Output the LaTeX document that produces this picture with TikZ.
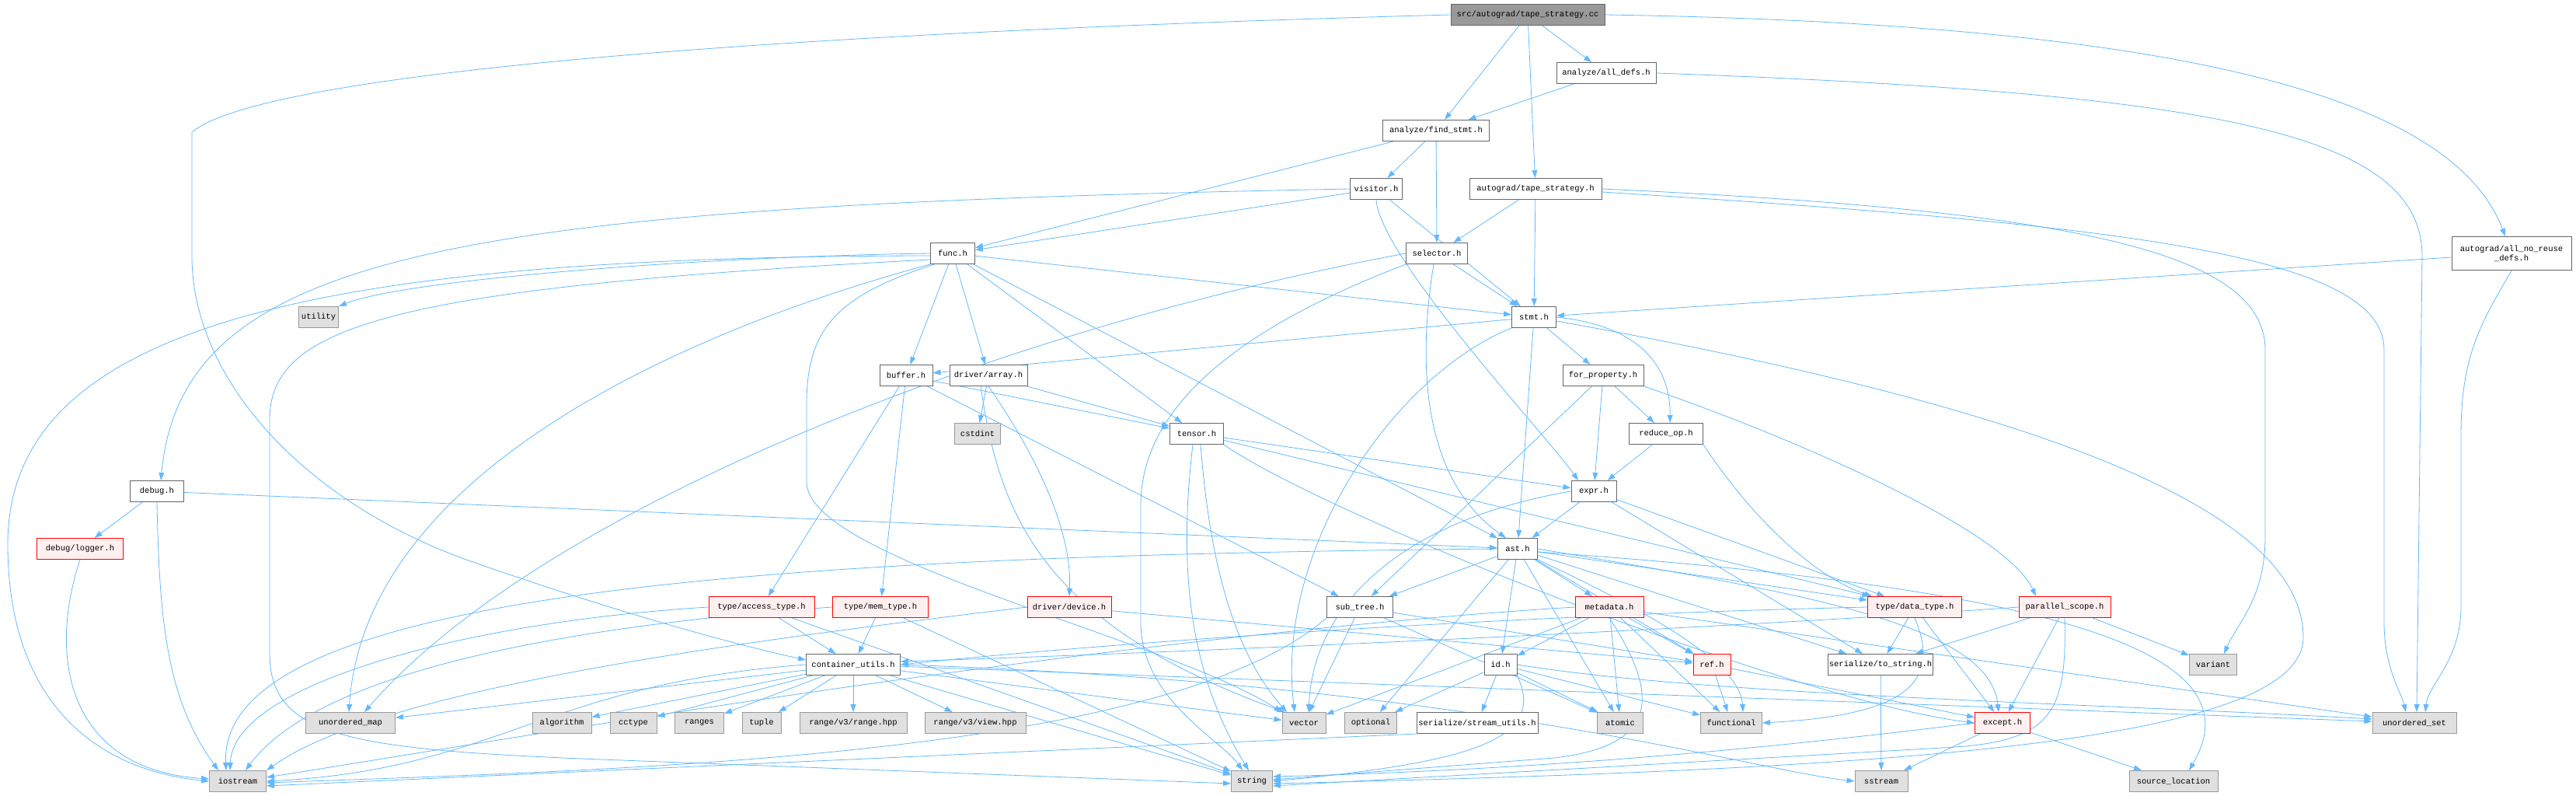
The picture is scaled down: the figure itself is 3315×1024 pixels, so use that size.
\documentclass[tikz,border=0pt]{standalone}
\usepackage{fontspec}
\newfontfamily\dmono{Liberation Mono}
\usetikzlibrary{arrows.meta,backgrounds}
\definecolor{edgec}{HTML}{63B8FF}
\definecolor{bdark}{HTML}{666666}
\definecolor{bgray}{HTML}{999999}
\definecolor{fgray}{HTML}{E0E0E0}
\definecolor{fred}{HTML}{FFF0F0}
\tikzset{
  base/.style={draw, line width=1pt, minimum height=27pt, inner sep=0pt, font=\dmono\fontsize{10.5pt}{12pt}\selectfont, text=black},
  wbox/.style={base, draw=bdark, fill=white},
  gbox/.style={base, draw=bgray, fill=fgray},
  rbox/.style={base, draw=red, fill=fred},
  mbox/.style={base, draw=bdark, fill=bgray},
  e/.style={draw=edgec, line width=0.8pt, -{Triangle[length=10pt,width=7pt]}}
}
\begin{document}
\begin{tikzpicture}[x=1pt,y=-1pt]
\useasboundingbox (0,0) rectangle (3315,1024);
% nodes
\node[mbox, minimum width=198pt] (cc) at (1966,19) {src/autograd/tape\_strategy.cc};
\node[wbox, minimum width=128pt] (alldefs) at (2067,94) {analyze/all\_defs.h};
\node[wbox, minimum width=137pt] (findstmt) at (1848,168) {analyze/find\_stmt.h};
\node[wbox, minimum width=67pt] (visitor) at (1771,243) {visitor.h};
\node[wbox, minimum width=170pt] (tsh) at (1976,243) {autograd/tape\_strategy.h};
\node[wbox, minimum width=154pt, minimum height=43pt, align=center] (noreuse) at (3232,326) {autograd/all\_no\_reuse\\\_defs.h};
\node[wbox, minimum width=57pt] (func) at (1226,326) {func.h};
\node[wbox, minimum width=79pt] (selector) at (1849,326) {selector.h};
\node[wbox, minimum width=57pt] (stmt) at (1974,408) {stmt.h};
\node[gbox, minimum width=51pt] (utility) at (410,408) {utility};
\node[wbox, minimum width=68pt] (buffer) at (1166,483) {buffer.h};
\node[wbox, minimum width=100pt] (array) at (1272,483) {driver/array.h};
\node[wbox, minimum width=104pt] (forprop) at (2063,483) {for\_property.h};
\node[wbox, minimum width=69pt] (debug) at (202,632) {debug.h};
\node[rbox, minimum width=111pt] (logger) at (103,706) {debug/logger.h};
\node[gbox, minimum width=59pt] (cstdint) at (1258,558) {cstdint};
\node[wbox, minimum width=69pt] (tensor) at (1540,558) {tensor.h};
\node[wbox, minimum width=95pt] (reduceop) at (2144,558) {reduce\_op.h};
\node[wbox, minimum width=58pt] (expr) at (2051,632) {expr.h};
\node[wbox, minimum width=51pt] (ast) at (1953,706) {ast.h};
\node[rbox, minimum width=136pt] (accesstype) at (980,781) {type/access\_type.h};
\node[rbox, minimum width=123pt] (memtype) at (1133,781) {type/mem\_type.h};
\node[rbox, minimum width=108pt] (device) at (1376,781) {driver/device.h};
\node[wbox, minimum width=85pt] (subtree) at (1750,781) {sub\_tree.h};
\node[rbox, minimum width=88pt] (metadata) at (2071,781) {metadata.h};
\node[rbox, minimum width=121pt] (datatype) at (2464,781) {type/data\_type.h};
\node[rbox, minimum width=118pt] (parscope) at (2657,781) {parallel\_scope.h};
\node[wbox, minimum width=121pt] (cu) at (1098,855) {container\_utils.h};
\node[wbox, minimum width=42pt] (id) at (1931,855) {id.h};
\node[rbox, minimum width=48pt] (ref) at (2203,855) {ref.h};
\node[wbox, minimum width=135pt] (tostring) at (2420,855) {serialize/to\_string.h};
\node[gbox, minimum width=61pt] (variant) at (2848,855) {variant};
\node[gbox, minimum width=115pt] (umap) at (451,930) {unordered\_map};
\node[gbox, minimum width=76pt] (algorithm) at (723,930) {algorithm};
\node[gbox, minimum width=60pt] (cctype) at (815,930) {cctype};
\node[gbox, minimum width=63pt] (ranges) at (900,930) {ranges};
\node[gbox, minimum width=50pt] (tuple) at (980,930) {tuple};
\node[gbox, minimum width=138pt] (rangehpp) at (1098,930) {range/v3/range.hpp};
\node[gbox, minimum width=130pt] (viewhpp) at (1255,930) {range/v3/view.hpp};
\node[gbox, minimum width=56pt] (vector) at (1678,930) {vector};
\node[gbox, minimum width=67pt] (optional) at (1764,930) {optional};
\node[wbox, minimum width=156pt] (streamutils) at (1901,930) {serialize/stream\_utils.h};
\node[gbox, minimum width=59pt] (atomic) at (2085,930) {atomic};
\node[gbox, minimum width=79pt] (functional) at (2228,930) {functional};
\node[rbox, minimum width=71pt] (except) at (2577,930) {except.h};
\node[gbox, minimum width=108pt] (uset) at (3107,930) {unordered\_set};
\node[gbox, minimum width=73pt] (iostream) at (306,1005) {iostream};
\node[gbox, minimum width=53pt] (string) at (1611,1005) {string};
\node[gbox, minimum width=68pt] (sstream) at (2421,1005) {sstream};
\node[gbox, minimum width=114pt] (srcloc) at (2797,1005) {source\_location};
\begin{scope}[on background layer]
% edges: cc
\draw[e] (cc) -- (findstmt);
\draw[e] (cc) -- (alldefs);
\draw[e] (cc) -- (tsh);
\draw[e] (cc.east) .. controls (2750,30) and (3150,110) .. ([xshift=-8pt]noreuse.north);
\draw[e] (cc.west) .. controls (900,45) and (330,100) .. (247,170) -- (247,330) .. controls (247,480) and (380,640) .. (600,720) .. controls (800,790) and (950,830) .. ([yshift=6pt]cu.west);
% alldefs
\draw[e] (alldefs) -- (findstmt);
\draw[e] (alldefs.east) .. controls (2850,120) and (3117,170) .. (3117,330) -- ([xshift=3pt]uset.north);
% findstmt
\draw[e] (findstmt) -- (func);
\draw[e] (findstmt) -- (visitor);
\draw[e] (findstmt) -- (selector);
% visitor
\draw[e] (visitor) -- (func);
\draw[e] (visitor) -- (stmt);
\draw[e] (visitor.south) .. controls (1775,330) and (1990,560) .. ([xshift=-20pt]expr.north);
\draw[e] (visitor.west) .. controls (600,265) and (235,320) .. ([xshift=5pt]debug.north);
% tsh
\draw[e] (tsh) -- (selector);
\draw[e] (tsh) -- (stmt);
\draw[e] (tsh.east) .. controls (2650,270) and (2915,320) .. (2915,450) -- (2915,690) .. controls (2915,770) and (2880,800) .. ([xshift=14pt]variant.north);
\draw[e] ([yshift=-4pt]tsh.east) .. controls (2750,290) and (3068,330) .. (3068,450) -- (3068,800) .. controls (3068,860) and (3090,890) .. ([xshift=-11pt]uset.north);
% noreuse
\draw[e] (noreuse) -- (stmt);
\draw[e] (noreuse.south) .. controls (3190,420) and (3167,460) .. (3167,560) -- (3167,780) .. controls (3167,850) and (3125,880) .. ([xshift=14pt]uset.north);
% func
\draw[e] (func) -- (buffer);
\draw[e] (func) -- (array);
\draw[e] (func) -- (tensor);
\draw[e] (func) -- (ast);
\draw[e] (func) -- (stmt);
\draw[e] (func.west) .. controls (900,330) and (520,360) .. (utility.north east);
\draw[e] ([yshift=-3pt]func.west) .. controls (400,330) and (10,420) .. (10,700) .. controls (10,900) and (120,990) .. (iostream.west);
\draw[e] (func.south west) .. controls (900,420) and (470,600) .. ([xshift=-2pt]umap.north);
\draw[e] ([yshift=-8pt]func.west) .. controls (500,370) and (347,420) .. (347,540) -- (347,840) .. controls (347,950) and (450,965) .. (800,978) -- ([yshift=-3pt]string.west);
\draw[e] ([xshift=5pt]func.south west) .. controls (1080,380) and (1038,420) .. (1038,520) -- (1038,620) .. controls (1038,720) and (1500,820) .. (vector.north west);
% selector
\draw[e] (selector) -- (stmt);
\draw[e] ([xshift=-4pt]selector.south) .. controls (1822,480) and (1835,620) .. ([xshift=-15pt]ast.north);
\draw[e] (selector.west) .. controls (1300,420) and (700,650) .. ([xshift=18pt]umap.north);
\draw[e] (selector.south west) .. controls (1600,420) and (1468,520) .. (1468,650) -- (1468,800) .. controls (1468,900) and (1570,950) .. ([xshift=-12pt]string.north);
% stmt
\draw[e] (stmt) -- (buffer);
\draw[e] (stmt.south west) .. controls (1800,480) and (1640,700) .. ([xshift=-12pt]vector.north);
\draw[e] (stmt) -- (ast);
\draw[e] (stmt) -- (forprop);
\draw[e] (stmt.east) .. controls (2120,420) and (2150,480) .. ([xshift=5pt]reduceop.north);
\draw[e] ([yshift=-5pt]stmt.east) .. controls (2600,520) and (2964,650) .. (2964,820) .. controls (2964,960) and (2400,990) .. ([yshift=-3pt]string.east);
% forprop
\draw[e] (forprop) -- (subtree);
\draw[e] (forprop) -- (expr);
\draw[e] (forprop) -- (reduceop);
\draw[e] (forprop.south east) .. controls (2300,560) and (2580,680) .. ([xshift=-37pt]parscope.north);
% reduceop
\draw[e] (reduceop) -- (expr);
\draw[e] (reduceop.south east) .. controls (2250,660) and (2330,740) .. ([xshift=-55pt]datatype.north);
% expr
\draw[e] (expr) -- (ast);
\draw[e] (expr.west) .. controls (1800,670) and (1690,780) .. ([xshift=6pt]vector.north);
\draw[e] (expr) -- (datatype);
\draw[e] (expr) -- (tostring);
% tensor
\draw[e] (tensor) -- (expr);
\draw[e] (tensor) -- (datatype);
\draw[e] (tensor.south east) .. controls (1700,660) and (2300,900) .. (except.west);
\draw[e] ([xshift=-5pt]tensor.south) .. controls (1520,700) and (1520,850) .. ([xshift=-4pt]string.north);
\draw[e] ([xshift=5pt]tensor.south) .. controls (1555,700) and (1580,830) .. ([xshift=-22pt]vector.north);
% buffer
\draw[e] (buffer) -- (tensor);
\draw[e] (buffer) -- (accesstype);
\draw[e] (buffer) -- (memtype);
\draw[e] (buffer) -- (subtree);
% array
\draw[e] (array) -- (tensor);
\draw[e] (array) -- (cstdint);
\draw[e] (array.south) .. controls (1330,580) and (1380,680) .. (device.north);
\draw[e] ([xshift=-10pt]array.south) .. controls (1285,650) and (1330,800) .. ([xshift=4pt]vector.north west);
% debug
\draw[e] (debug) -- (logger);
\draw[e] (debug.south) .. controls (205,800) and (215,900) .. ([xshift=-25pt]iostream.north);
\draw[e] (debug) -- (ast);
% logger
\draw[e] (logger.south) .. controls (60,850) and (90,990) .. ([yshift=3pt]iostream.west);
% accesstype
\draw[e] (accesstype) -- (cu);
\draw[e] (accesstype.west) .. controls (600,800) and (300,880) .. ([xshift=-10pt]iostream.north);
\draw[e] (accesstype) -- (string);
% memtype
\draw[e] (memtype) -- (cu);
\draw[e] (memtype) -- (string);
\draw[e] (memtype.west) .. controls (800,800) and (420,850) .. ([xshift=10pt]iostream.north);
% device
\draw[e] (device.west) .. controls (1000,820) and (500,880) .. (iostream.north east);
\draw[e] (device) -- (ref);
% subtree
\draw[e] (subtree) -- (vector);
\draw[e] (subtree) -- (atomic);
\draw[e] (subtree) -- (ref);
\draw[e] (subtree.south west) .. controls (1500,975) and (800,990) .. ([yshift=-2pt]iostream.east);
% metadata
\draw[e] (metadata) -- (id);
\draw[e] (metadata) -- (atomic);
\draw[e] (metadata) -- (ref);
\draw[e] (metadata) -- (vector);
\draw[e] (metadata.south) .. controls (2140,900) and (2130,960) .. (2000,975) -- ([yshift=2pt]string.east);
\draw[e] (metadata) -- (functional);
\draw[e] (metadata.west) .. controls (1400,820) and (600,960) .. ([yshift=5pt]iostream.east);
\draw[e] (metadata) -- (uset);
% id
\draw[e] (id) -- (atomic);
\draw[e] (id) -- (optional);
\draw[e] (id) -- (streamutils);
\draw[e] (id) -- (functional);
\draw[e] (id.south east) .. controls (1990,950) and (1900,980) .. (string.east);
\draw[e] (id.east) .. controls (2200,895) and (2700,905) .. ([yshift=5pt]uset.west);
% streamutils
\draw[e] (streamutils.south west) -- ([yshift=-6pt]iostream.east);
% ast
\draw[e] (ast) -- (subtree);
\draw[e] (ast) -- (metadata);
\draw[e] (ast) -- (id);
\draw[e] (ast) -- (optional);
\draw[e] (ast) -- (atomic);
\draw[e] (ast.west) .. controls (1000,715) and (280,760) .. ([xshift=-15pt]iostream.north);
\draw[e] (ast) -- (datatype);
\draw[e] (ast.east) .. controls (2300,760) and (2560,800) .. ([xshift=-5pt]except.north);
\draw[e] (ast) -- (ref);
\draw[e] (ast) -- (tostring);
\draw[e] (ast.south east) .. controls (2150,800) and (2240,860) .. ([xshift=15pt]functional.north);
\draw[e] ([yshift=-4pt]ast.east) .. controls (2700,760) and (2900,850) .. ([xshift=20pt]srcloc.north);
% datatype
\draw[e] (datatype) -- (tostring);
\draw[e] (datatype) -- (except);
\draw[e] (datatype.south) .. controls (2500,880) and (2450,920) .. (functional.east);
\draw[e] (datatype.west) .. controls (2000,790) and (1500,820) .. (cu.east);
% parscope
\draw[e] (parscope.west) .. controls (2200,810) and (1500,840) .. ([yshift=4pt]cu.east);
\draw[e] (parscope) -- (tostring);
\draw[e] (parscope) -- (except);
\draw[e] (parscope) -- (variant);
\draw[e] (parscope.south) .. controls (2660,920) and (2640,955) .. (2500,962) -- ([yshift=-6pt]string.east);
% ref
\draw[e] (ref) -- (functional);
\draw[e] (ref) -- (except);
% tostring
\draw[e] (tostring) -- (sstream);
% except
\draw[e] (except) -- (sstream);
\draw[e] (except) -- (srcloc);
\draw[e] (except.west) .. controls (2300,960) and (2000,990) .. ([yshift=6pt]string.east);
% container_utils
\draw[e] (cu) -- (umap);
\draw[e] (cu) -- (algorithm);
\draw[e] (cu) -- (cctype);
\draw[e] (cu) -- (ranges);
\draw[e] (cu) -- (tuple);
\draw[e] (cu) -- (rangehpp);
\draw[e] (cu) -- (viewhpp);
\draw[e] (cu) -- (vector);
\draw[e] (cu) -- (string);
\draw[e] (cu.east) .. controls (1900,880) and (2250,990) .. (sstream.west);
\draw[e] (cu) -- (uset);
\draw[e] (cu.west) .. controls (700,880) and (640,990) .. (iostream.east);
\end{scope}
\end{tikzpicture}
\end{document}
